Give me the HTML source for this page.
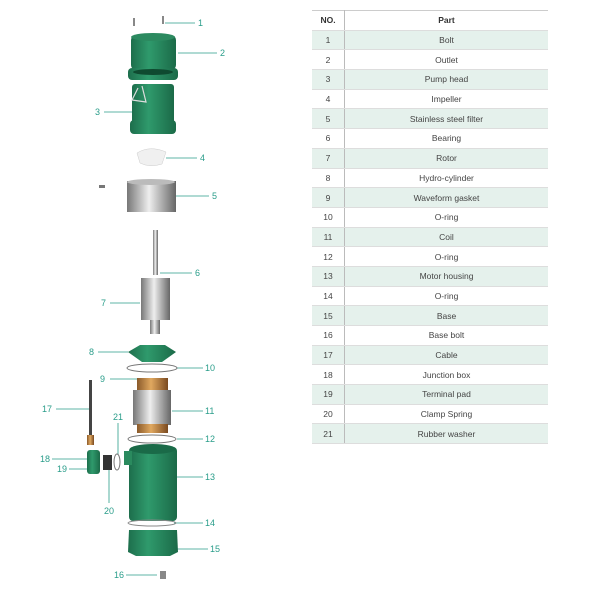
<!DOCTYPE html>
<html><head><meta charset="utf-8"><style>
body{margin:0;background:#fff;width:600px;height:600px;overflow:hidden;position:relative;font-family:"Liberation Sans",sans-serif}
table{position:absolute;left:312px;top:10px;width:236px;border-collapse:collapse;font-size:8.5px;color:#444}
td,th{height:18.7px;padding:0;text-align:center;border-bottom:1px solid #ddd}
th{font-weight:bold;color:#333;border-top:1px solid #ccc}
td:first-child,th:first-child{width:32px;border-right:1px solid #bbb}
tr:nth-child(even) td{background:#e5f1ec}
svg{position:absolute;left:0;top:0}
</style></head><body>
<svg width="600" height="600" font-family="Liberation Sans" font-size="9" fill="#2a9d8a">
<defs>
<linearGradient id="g" x1="0" x2="1"><stop offset="0" stop-color="#1d6e4c"/><stop offset=".4" stop-color="#2f9a6c"/><stop offset="1" stop-color="#1b6a48"/></linearGradient>
<linearGradient id="s" x1="0" x2="1"><stop offset="0" stop-color="#777"/><stop offset=".45" stop-color="#eee"/><stop offset="1" stop-color="#666"/></linearGradient>
<linearGradient id="b" x1="0" x2="1"><stop offset="0" stop-color="#8a5a2a"/><stop offset=".45" stop-color="#e0a860"/><stop offset="1" stop-color="#7a4a20"/></linearGradient>
</defs>
<g stroke="#2a9d8a" stroke-width="0.8">
<line x1="165" y1="23" x2="195" y2="23"/><line x1="178" y1="53" x2="217" y2="53"/><line x1="104" y1="112" x2="135" y2="112"/>
<line x1="166" y1="158" x2="197" y2="158"/><line x1="176" y1="196" x2="209" y2="196"/><line x1="160" y1="273" x2="192" y2="273"/>
<line x1="110" y1="303" x2="140" y2="303"/><line x1="98" y1="352" x2="128" y2="352"/><line x1="177" y1="368" x2="203" y2="368"/>
<line x1="110" y1="379" x2="137" y2="379"/><line x1="172" y1="411" x2="203" y2="411"/><line x1="177" y1="439" x2="203" y2="439"/>
<line x1="172" y1="477" x2="203" y2="477"/><line x1="174" y1="523" x2="203" y2="523"/><line x1="177" y1="549" x2="208" y2="549"/>
<line x1="126" y1="575" x2="157" y2="575"/><line x1="56" y1="409" x2="89" y2="409"/><line x1="52" y1="459" x2="87" y2="459"/>
<line x1="69" y1="469" x2="93" y2="469"/><line x1="109" y1="470" x2="109" y2="503"/><line x1="118" y1="423" x2="118" y2="455"/>
</g>
<text x="198" y="26">1</text><text x="220" y="56">2</text><text x="95" y="115">3</text><text x="200" y="161">4</text>
<text x="212" y="199">5</text><text x="195" y="276">6</text><text x="101" y="306">7</text><text x="89" y="355">8</text>
<text x="205" y="371">10</text><text x="100" y="382">9</text><text x="205" y="414">11</text><text x="205" y="442">12</text>
<text x="205" y="480">13</text><text x="205" y="526">14</text><text x="210" y="552">15</text><text x="114" y="578">16</text>
<text x="42" y="412">17</text><text x="40" y="462">18</text><text x="57" y="472">19</text><text x="104" y="514">20</text><text x="113" y="420">21</text>
<!-- bolts -->
<rect x="133" y="18" width="2" height="8" fill="#888"/><rect x="162" y="16" width="2" height="8" fill="#888"/>
<!-- outlet -->
<rect x="131" y="35" width="45" height="35" rx="5" fill="url(#g)"/>
<ellipse cx="153" cy="37" rx="22" ry="4" fill="#2c8a60"/>
<rect x="128" y="68" width="50" height="12" rx="4" fill="url(#g)"/>
<ellipse cx="153" cy="72" rx="20" ry="3" fill="#0f4a30"/>
<!-- pump head -->
<rect x="132" y="84" width="42" height="40" rx="3" fill="url(#g)"/>
<rect x="130" y="120" width="46" height="14" rx="4" fill="url(#g)"/>
<path d="M138 88 L132 100 L146 102 L142 86" fill="none" stroke="#ddd" stroke-width="1.2"/>
<!-- impeller -->
<path d="M137 153 Q150 145 166 152 L162 164 Q150 168 140 163Z" fill="#f0f0f0" stroke="#ccc" stroke-width=".5"/>
<!-- filter -->
<rect x="99" y="185" width="6" height="3" fill="#777"/>
<rect x="127" y="181" width="49" height="31" fill="url(#s)"/>
<ellipse cx="151" cy="182" rx="24" ry="3" fill="#bbb"/>
<!-- rotor -->
<rect x="153" y="230" width="5" height="45" fill="url(#s)"/>
<rect x="141" y="278" width="29" height="42" fill="url(#s)"/>
<rect x="150" y="320" width="10" height="14" fill="url(#s)"/>
<!-- 8 -->
<path d="M128 352 L140 345 L165 345 L176 352 L162 362 L142 362Z" fill="url(#g)"/>
<ellipse cx="152" cy="368" rx="25" ry="4" fill="none" stroke="#777" stroke-width="1"/>
<!-- stator -->
<rect x="137" y="378" width="31" height="13" fill="url(#b)"/>
<rect x="133" y="390" width="38" height="35" fill="url(#s)"/>
<rect x="137" y="424" width="31" height="9" fill="url(#b)"/>
<ellipse cx="152" cy="439" rx="24" ry="4" fill="none" stroke="#777" stroke-width="1"/>
<!-- housing -->
<rect x="129" y="447" width="48" height="74" rx="4" fill="url(#g)"/>
<ellipse cx="153" cy="449" rx="23" ry="5" fill="#1a6a48"/>
<rect x="124" y="451" width="8" height="14" fill="#2a8a5e"/>
<ellipse cx="152" cy="523" rx="24" ry="3" fill="none" stroke="#888" stroke-width="1"/>
<path d="M129 530 L177 530 L178 552 L170 556 L136 556 L128 552Z" fill="url(#g)"/>
<rect x="160" y="571" width="6" height="8" fill="#888"/>
<!-- cable etc -->
<rect x="89" y="380" width="3" height="55" fill="#444"/>
<rect x="87" y="435" width="7" height="10" fill="url(#b)"/>
<rect x="87" y="450" width="13" height="24" rx="3" fill="url(#g)"/>
<rect x="103" y="455" width="9" height="15" fill="#333"/>
<ellipse cx="117" cy="462" rx="3" ry="8" fill="none" stroke="#777" stroke-width="1"/>
</svg>
<table>
<tr><th>NO.</th><th>Part</th></tr>
<tr><td>1</td><td>Bolt</td></tr><tr><td>2</td><td>Outlet</td></tr><tr><td>3</td><td>Pump head</td></tr>
<tr><td>4</td><td>Impeller</td></tr><tr><td>5</td><td>Stainless steel filter</td></tr><tr><td>6</td><td>Bearing</td></tr>
<tr><td>7</td><td>Rotor</td></tr><tr><td>8</td><td>Hydro-cylinder</td></tr><tr><td>9</td><td>Waveform gasket</td></tr>
<tr><td>10</td><td>O-ring</td></tr><tr><td>11</td><td>Coil</td></tr><tr><td>12</td><td>O-ring</td></tr>
<tr><td>13</td><td>Motor housing</td></tr><tr><td>14</td><td>O-ring</td></tr><tr><td>15</td><td>Base</td></tr>
<tr><td>16</td><td>Base bolt</td></tr><tr><td>17</td><td>Cable</td></tr><tr><td>18</td><td>Junction box</td></tr>
<tr><td>19</td><td>Terminal pad</td></tr><tr><td>20</td><td>Clamp Spring</td></tr><tr><td>21</td><td>Rubber washer</td></tr>
</table>
</body></html>
